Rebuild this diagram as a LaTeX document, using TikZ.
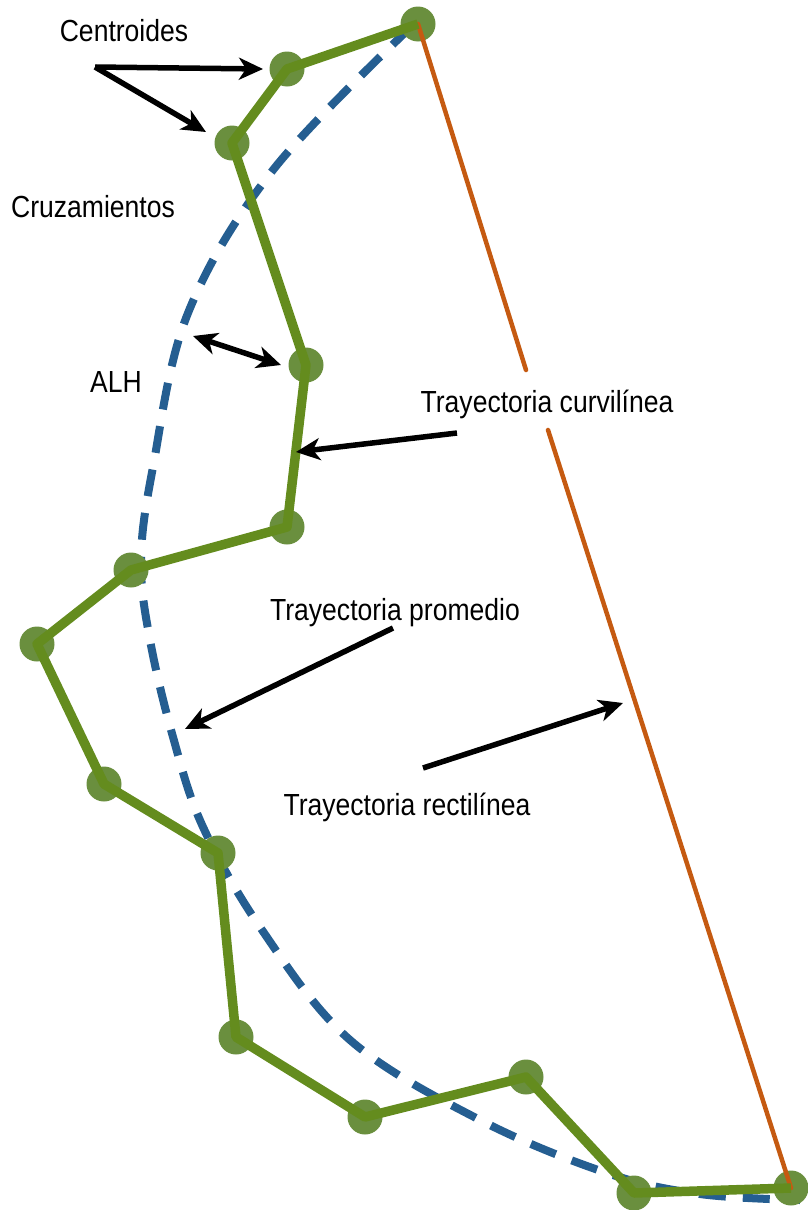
\documentclass[tikz,border=0pt]{standalone}
\usepackage{fontspec}
\setmainfont{Liberation Sans}[FakeStretch=0.87]
\usetikzlibrary{arrows.meta}
\definecolor{verde}{RGB}{100,140,30}
\definecolor{verdeclaro}{RGB}{106,143,62}
\definecolor{azul}{RGB}{37,94,145}
\definecolor{naranja}{RGB}{197,90,17}
\begin{document}
\begin{tikzpicture}[x=1pt, y=-1pt,
        centroide/.style={circle, fill=verdeclaro, minimum size=35pt, inner sep=0},
        etiqueta/.style={font=\fontsize{30.5}{36}\selectfont, inner sep=0, anchor=base},
        flecha/.style={line width=5.5pt, -{Stealth[length=24pt, width=22pt, inset=7pt]}},
        dobleflecha/.style={line width=5.5pt, {Stealth[length=24pt, width=22pt, inset=7pt]}-{Stealth[length=24pt, width=22pt, inset=7pt]}}]
        \useasboundingbox (0,0) rectangle (808,1210);
        % trayectoria promedio
        \draw[azul, line width=8pt, dash pattern=on 27pt off 17pt]
            plot[smooth, tension=0.6] coordinates {(412,26) (273,170) (188,313) (153,467) (141,560) (150,640) (173,737) (203,827) (262,930) (350,1040) (480,1120) (607,1173) (700,1194) (800,1200)};
        % centroides
        \foreach \i/\x/\y in {1/418/24, 2/287/69, 3/232/143, 4/306/365, 5/287/527, 6/131/570, 7/37/644, 8/104/784, 9/218/853, 10/236/1037, 11/365/1117, 12/526/1077, 13/634/1193, 14/791/1188}
            \node (c\i) [centroide] at (\x,\y) {};
        % trayectoria rectilinea
        \coordinate (o1) at (526,370);
        \coordinate (o2) at (548,430);
        \draw[naranja, line width=4.5pt, line cap=round] (c1.center) -- (o1) (o2) -- (c14.center);
        % trayectoria curvilinea
        \draw[verde, line width=9.5pt, line join=round] (c1.center) \foreach \i in {2,...,14}{ -- (c\i.center)};

        \node (centroides) [etiqueta] at (124,41) {Centroides};
        \node (cruz) [etiqueta] at (93,217) {Cruzamientos};
        \node (alh) [etiqueta] at (116,392) {ALH};
        \node (curv) [etiqueta] at (547,412) {Trayectoria curvilínea};
        \node (prom) [etiqueta] at (395,620) {Trayectoria promedio};
        \node (rect) [etiqueta] at (407,815) {Trayectoria rectilínea};

        \coordinate (v) at (95,67);
        \coordinate (a1) at (263,69);
        \coordinate (a2) at (206,132);
        \coordinate (h1) at (193,336);
        \coordinate (h2) at (281,365);
        \coordinate (s1) at (457,433);
        \coordinate (t1) at (296,452);
        \coordinate (s2) at (393,628);
        \coordinate (t2) at (185,729);
        \coordinate (s3) at (423,768);
        \coordinate (t3) at (623,703);
        \draw[flecha] (v) -- (a1);
        \draw[flecha] (v) -- (a2);
        \draw[dobleflecha] (h1) -- (h2);
        \draw[flecha] (s1) -- (t1);
        \draw[flecha] (s2) -- (t2);
        \draw[flecha] (s3) -- (t3);
\end{tikzpicture}
\end{document}
